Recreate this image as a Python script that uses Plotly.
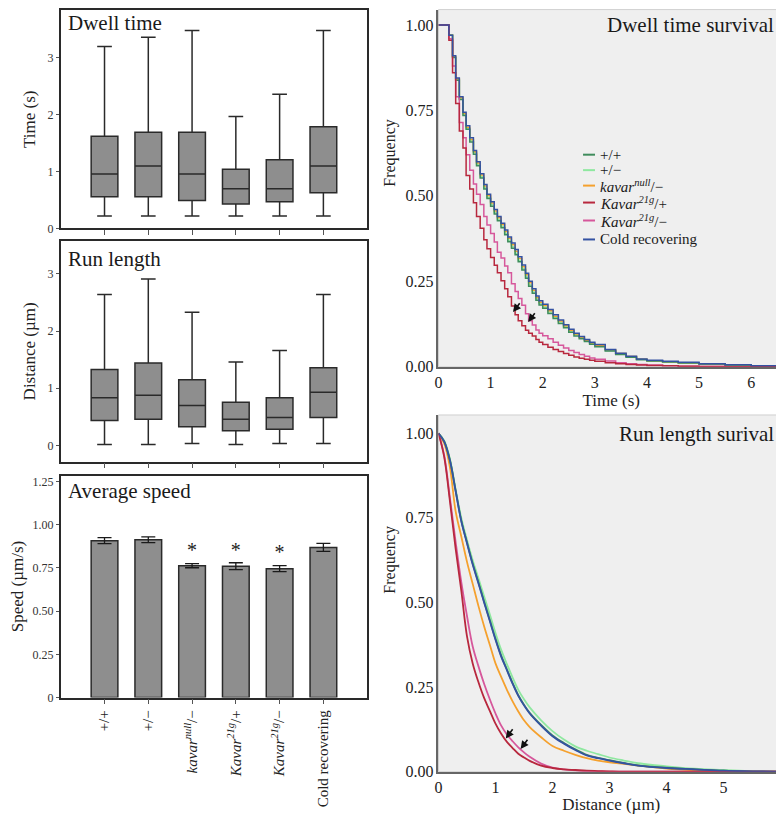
import plotly.graph_objects as go

FONT = "Liberation Serif"

# ---------------- data ----------------
categories = ["+/+", "+/−", "kavar null/−", "Kavar 21g/+", "Kavar 21g/−", "Cold recovering"]
category_labels = ["+/+", "+/−", "<i>kavar<sup>null</sup></i>/−", "<i>Kavar<sup>21g</sup></i>/+",
                   "<i>Kavar<sup>21g</sup></i>/−", "Cold recovering"]

# Dwell time box stats (s)
dwell_low = [0.22, 0.22, 0.22, 0.22, 0.22, 0.22]
dwell_q1 = [0.56, 0.56, 0.49, 0.43, 0.47, 0.63]
dwell_med = [0.96, 1.10, 0.96, 0.70, 0.70, 1.10]
dwell_q3 = [1.62, 1.69, 1.69, 1.04, 1.21, 1.79]
dwell_high = [3.20, 3.36, 3.48, 1.97, 2.36, 3.48]

# Run length box stats (um)
run_low = [0.02, 0.02, 0.035, 0.02, 0.035, 0.035]
run_q1 = [0.435, 0.46, 0.33, 0.26, 0.285, 0.49]
run_med = [0.835, 0.88, 0.70, 0.46, 0.49, 0.93]
run_q3 = [1.33, 1.44, 1.15, 0.755, 0.835, 1.36]
run_high = [2.64, 2.91, 2.33, 1.46, 1.66, 2.64]

# Average speed (um/s)
speed_mean = [0.908, 0.913, 0.763, 0.760, 0.746, 0.869]
speed_err = [0.017, 0.017, 0.012, 0.020, 0.017, 0.023]
significant = [False, False, True, True, True, False]

# Dwell time survival
dwell_t = [0, 0.2, 0.27, 0.33, 0.4, 0.47, 0.53, 0.6, 0.67, 0.73, 0.8, 0.87, 0.93, 1.0, 1.07, 1.13,
           1.2, 1.27, 1.33, 1.4, 1.47, 1.53, 1.6, 1.67, 1.73, 1.8, 1.87, 1.93, 2.0, 2.1, 2.2, 2.3,
           2.4, 2.5, 2.6, 2.7, 2.8, 2.9, 3.0, 3.2, 3.4, 3.6, 3.8, 4.0, 4.3, 4.6, 5.0, 5.5, 6.0, 6.6]
dwell_pp = [1.0, 0.97, 0.905, 0.838, 0.782, 0.735, 0.695, 0.658, 0.622, 0.588, 0.552, 0.52, 0.492,
            0.47, 0.447, 0.427, 0.407, 0.386, 0.366, 0.347, 0.328, 0.307, 0.283, 0.259, 0.236, 0.215,
            0.195, 0.181, 0.171, 0.156, 0.141, 0.127, 0.114, 0.101, 0.09, 0.082, 0.074, 0.066, 0.059,
            0.046, 0.036, 0.028, 0.021, 0.017, 0.014, 0.011, 0.008, 0.005, 0.002, 0.0]
dwell_pm = [1.0, 0.97, 0.907, 0.841, 0.785, 0.738, 0.698, 0.662, 0.626, 0.592, 0.556, 0.524, 0.496,
            0.474, 0.451, 0.431, 0.411, 0.39, 0.37, 0.351, 0.332, 0.311, 0.287, 0.263, 0.24, 0.219,
            0.199, 0.185, 0.175, 0.16, 0.145, 0.131, 0.118, 0.105, 0.094, 0.085, 0.077, 0.069, 0.062,
            0.048, 0.038, 0.029, 0.022, 0.018, 0.015, 0.012, 0.008, 0.005, 0.002, 0.0]
dwell_null = [1.0, 0.97, 0.908, 0.843, 0.787, 0.741, 0.701, 0.665, 0.629, 0.596, 0.561, 0.529, 0.501,
              0.479, 0.456, 0.436, 0.416, 0.396, 0.376, 0.357, 0.338, 0.317, 0.293, 0.269, 0.246,
              0.224, 0.203, 0.189, 0.179, 0.164, 0.148, 0.134, 0.12, 0.107, 0.096, 0.087, 0.078,
              0.07, 0.063, 0.05, 0.039, 0.03, 0.022, 0.018, 0.015, 0.012, 0.009, 0.005, 0.002, 0.0]
dwell_21g_p = [1.0, 0.955, 0.86, 0.77, 0.69, 0.64, 0.56, 0.52, 0.48, 0.44, 0.405, 0.372, 0.345, 0.32,
               0.297, 0.275, 0.252, 0.228, 0.205, 0.178, 0.152, 0.135, 0.12, 0.107, 0.098, 0.09, 0.08,
               0.072, 0.065, 0.057, 0.051, 0.045, 0.039, 0.034, 0.029, 0.025, 0.022, 0.019, 0.016,
               0.012, 0.009, 0.007, 0.005, 0.004, 0.003, 0.002, 0.001, 0.0, 0.0, 0.0]
dwell_21g_m = [1.0, 0.96, 0.88, 0.79, 0.715, 0.67, 0.62, 0.575, 0.535, 0.505, 0.475, 0.44, 0.415, 0.39,
               0.365, 0.335, 0.318, 0.295, 0.275, 0.243, 0.22, 0.2, 0.18, 0.155, 0.135, 0.122, 0.108,
               0.098, 0.091, 0.082, 0.072, 0.063, 0.055, 0.048, 0.042, 0.036, 0.031, 0.026, 0.022,
               0.017, 0.012, 0.009, 0.007, 0.005, 0.003, 0.002, 0.001, 0.0, 0.0, 0.0]
dwell_cold = [1.0, 0.97, 0.91, 0.845, 0.79, 0.745, 0.705, 0.67, 0.633, 0.6, 0.565, 0.533, 0.505, 0.483,
              0.46, 0.44, 0.42, 0.4, 0.38, 0.362, 0.343, 0.322, 0.298, 0.274, 0.25, 0.228, 0.207,
              0.193, 0.183, 0.168, 0.152, 0.137, 0.123, 0.11, 0.098, 0.089, 0.08, 0.072, 0.065, 0.051,
              0.04, 0.031, 0.023, 0.019, 0.016, 0.013, 0.009, 0.006, 0.003, 0.0]

# Run length survival
run_d = [0, 0.1, 0.2, 0.3, 0.4, 0.5, 0.6, 0.7, 0.8, 0.9, 1.0, 1.1, 1.2, 1.3, 1.4, 1.5, 1.6, 1.8, 2.0,
         2.2, 2.4, 2.6, 2.8, 3.0, 3.25, 3.5, 4.0, 4.5, 5.0, 5.5, 6.0]
run_pp = [1.0, 0.976, 0.921, 0.831, 0.742, 0.677, 0.615, 0.56, 0.503, 0.448, 0.393, 0.343, 0.302, 0.262,
          0.226, 0.198, 0.174, 0.138, 0.107, 0.085, 0.066, 0.05, 0.041, 0.034, 0.026, 0.019, 0.012,
          0.007, 0.003, 0.001, 0.0]
run_pm = [1.0, 0.978, 0.925, 0.835, 0.75, 0.685, 0.625, 0.572, 0.518, 0.465, 0.41, 0.36, 0.318, 0.278,
          0.242, 0.214, 0.19, 0.152, 0.12, 0.095, 0.075, 0.062, 0.052, 0.042, 0.033, 0.025, 0.016,
          0.009, 0.005, 0.001, 0.0]
run_null = [1.0, 0.97, 0.9, 0.77, 0.695, 0.62, 0.555, 0.49, 0.43, 0.375, 0.32, 0.28, 0.242, 0.208, 0.178,
            0.152, 0.132, 0.102, 0.076, 0.062, 0.05, 0.04, 0.033, 0.028, 0.023, 0.018, 0.009, 0.004,
            0.001, 0.0, 0.0]
run_21g_p = [1.0, 0.93, 0.8, 0.66, 0.535, 0.4, 0.32, 0.265, 0.218, 0.18, 0.142, 0.112, 0.088, 0.07,
             0.053, 0.042, 0.032, 0.018, 0.011, 0.007, 0.005, 0.003, 0.002, 0.001, 0.0, 0.0, 0.0, 0.0,
             0.0, 0.0, 0.0]
run_21g_m = [1.0, 0.935, 0.81, 0.68, 0.56, 0.46, 0.37, 0.312, 0.26, 0.214, 0.172, 0.136, 0.11, 0.09,
             0.072, 0.057, 0.044, 0.024, 0.012, 0.007, 0.004, 0.002, 0.001, 0.0, 0.0, 0.0, 0.0, 0.0,
             0.0, 0.0, 0.0]
run_cold = [1.0, 0.975, 0.92, 0.83, 0.74, 0.675, 0.612, 0.557, 0.5, 0.445, 0.39, 0.34, 0.3, 0.26, 0.224,
            0.196, 0.172, 0.136, 0.105, 0.083, 0.064, 0.048, 0.04, 0.033, 0.025, 0.018, 0.011, 0.007,
            0.003, 0.001, 0.0]

series_names = ["+/+", "+/−", "<i>kavar<sup>null</sup></i>/−", "<i>Kavar<sup>21g</sup></i>/+",
                "<i>Kavar<sup>21g</sup></i>/−", "Cold recovering"]
series_colors = ["#3f8c5c", "#8fe8a0", "#f5a12e", "#b8283e", "#d6579b", "#3452a2"]
dwell_series = [dwell_pp, dwell_pm, dwell_null, dwell_21g_p, dwell_21g_m, dwell_cold]
run_series = [run_pp, run_pm, run_null, run_21g_p, run_21g_m, run_cold]
draw_order = [1, 2, 0, 4, 3, 5]

# ---------------- figure ----------------
# page has an 8px body margin: the figure starts at page pixel (8, 8);
# SY compensates the slight vertical squeeze of the captured page
OX, OY = 8, 8
SY = 814 / 822
W, H = 776, 806
def px(x):
    return min(1.0, max(0.0, (x - OX) / W))
def py(y):
    return min(1.0, max(0.0, 1 - (y / SY - OY) / H))

BOX_FILL = "#8e8e8e"
EDGE = "#2a2a2a"
fig = go.Figure()

for axn, (lo, q1, med, q3, hi) in zip(["", "2"], [
        (dwell_low, dwell_q1, dwell_med, dwell_q3, dwell_high),
        (run_low, run_q1, run_med, run_q3, run_high)]):
    fig.add_trace(go.Box(x=categories, lowerfence=lo, q1=q1, median=med, q3=q3, upperfence=hi,
                         xaxis="x" + axn, yaxis="y" + axn, fillcolor=BOX_FILL,
                         line=dict(color=EDGE, width=1.5), whiskerwidth=0.55, width=0.61,
                         boxpoints=False, showlegend=False, hoverinfo="skip"))

fig.add_trace(go.Bar(x=categories, y=speed_mean, width=0.61, xaxis="x3", yaxis="y3",
                     marker=dict(color=BOX_FILL, line=dict(color=EDGE, width=1.5)),
                     error_y=dict(type="data", array=speed_err, color="#1a1a1a", thickness=1.3, width=7),
                     showlegend=False, hoverinfo="skip"))
star_x = [c for c, s in zip(categories, significant) if s]
star_y = [m + e + 0.065 for m, e, s in zip(speed_mean, speed_err, significant) if s]
fig.add_trace(go.Scatter(x=star_x, y=star_y, mode="text", text=["*"] * len(star_x),
                         textfont=dict(family=FONT, size=20, color="#222"), xaxis="x3", yaxis="y3",
                         showlegend=False, hoverinfo="skip"))

for i in draw_order:
    fig.add_trace(go.Scatter(x=dwell_t, y=dwell_series[i], mode="lines", line_shape="hv",
                             line=dict(color=series_colors[i], width=1.5), name=series_names[i],
                             showlegend=False, xaxis="x4", yaxis="y4", hoverinfo="skip"))
for i in draw_order:
    fig.add_trace(go.Scatter(x=run_d, y=run_series[i], mode="lines", line_shape="spline",
                             line=dict(color=series_colors[i], width=1.8), name=series_names[i],
                             showlegend=False, xaxis="x5", yaxis="y5", hoverinfo="skip"))

tickfont_small = dict(family=FONT, size=12, color="#333")
tickfont_big = dict(family=FONT, size=16, color="#222")
title_font = dict(family=FONT, size=17, color="#222")

left_x = [px(57), px(365)]
frame = dict(showline=True, linecolor=EDGE, linewidth=1.5, mirror=True, showgrid=False, zeroline=False)
cat_axis = dict(type="category", categoryarray=categories, range=[-1, 6], ticks="outside",
                ticklen=5, tickcolor="#555", **frame)
surv_line = dict(showline=True, linecolor="#666", linewidth=1.5, showgrid=False, zeroline=False,
                 tickfont=tickfont_big, ticks="")

layout = dict(
    width=W, height=H, margin=dict(l=0, r=0, t=0, b=0),
    paper_bgcolor="white", plot_bgcolor="white",
    font=dict(family=FONT, color="#222"),
    showlegend=False,
    xaxis=dict(domain=left_x, anchor="y", showticklabels=False, **cat_axis),
    yaxis=dict(domain=[py(228), py(9)], anchor="x", range=[0, 3.84], tickvals=[0, 1, 2, 3],
               ticks="outside", ticklen=3, tickcolor="#555", tickfont=tickfont_small,
               title=dict(text="Time (s)", font=title_font, standoff=8), **frame),
    xaxis2=dict(domain=left_x, anchor="y2", showticklabels=False, **cat_axis),
    yaxis2=dict(domain=[py(461.7), py(240.7)], anchor="x2", range=[-0.28, 3.57],
                tickvals=[0, 1, 2, 3], ticks="outside", ticklen=3, tickcolor="#555",
                tickfont=tickfont_small,
                title=dict(text="Distance (µm)", font=title_font, standoff=8), **frame),
    xaxis3=dict(domain=left_x, anchor="y3", tickvals=categories, ticktext=category_labels,
                tickangle=-90, tickfont=dict(family=FONT, size=15, color="#222"), **cat_axis),
    yaxis3=dict(domain=[py(698.3), py(475.7)], anchor="x3", range=[0, 1.285],
                tickvals=[0, 0.25, 0.5, 0.75, 1.0, 1.25],
                ticktext=["0", "0.25", "0.50", "0.75", "1.00", "1.25"],
                ticks="outside", ticklen=3, tickcolor="#555", tickfont=tickfont_small,
                title=dict(text="Speed (µm/s)", font=title_font, standoff=5), **frame),
    xaxis4=dict(domain=[px(436.7), 1.0], anchor="y4", range=[0, 6.63], tickvals=[0, 1, 2, 3, 4, 5, 6],
                title=dict(text="Time (s)", font=title_font, standoff=4), **surv_line),
    yaxis4=dict(domain=[py(366.7), py(8.5)], anchor="x4", range=[0, 1.045],
                tickvals=[0, 0.25, 0.5, 0.75, 1.0], ticktext=["0.00", "0.25", "0.50", "0.75", "1.00"],
                **surv_line),
    xaxis5=dict(domain=[px(436.7), 1.0], anchor="y5", range=[0, 6.06], tickvals=[0, 1, 2, 3, 4, 5, 6],
                title=dict(text="Distance (µm)", font=title_font, standoff=4), **surv_line),
    yaxis5=dict(domain=[py(772.7), py(415)], anchor="x5", range=[0, 1.054],
                tickvals=[0, 0.25, 0.5, 0.75, 1.0], ticktext=["0.00", "0.25", "0.50", "0.75", "1.00"],
                **surv_line),
)
fig.update_layout(**layout)

# grey plot areas for the survival panels
for xa, ya in [("x4", "y4"), ("x5", "y5")]:
    fig.add_shape(type="rect", xref=xa + " domain", yref=ya + " domain", x0=0, x1=1, y0=0, y1=1,
                  fillcolor="#efefef", line=dict(color="#d0d0d0", width=1), layer="below")

# "Frequency" axis titles sit above the axis middle in the original
for y in [152, 560]:
    fig.add_annotation(text="Frequency", x=px(388), y=py(y), xref="paper", yref="paper",
                       xanchor="center", yanchor="middle", textangle=-90, showarrow=False,
                       font=dict(family=FONT, size=16, color="#222"))

# legend (compact, as in the original figure)
legend_rows = [154, 169.5, 185, 202, 220, 239]
for name, color, yrow in zip(series_names, series_colors, legend_rows):
    fig.add_shape(type="line", xref="paper", yref="paper", x0=px(582), x1=px(594),
                  y0=py(yrow), y1=py(yrow), line=dict(color=color, width=2))
    fig.add_annotation(text=name, x=px(597), y=py(yrow), xref="paper", yref="paper",
                       xanchor="left", yanchor="middle", showarrow=False,
                       font=dict(family=FONT, size=15, color="#1a1a1a"))

# panel titles
for text, y in [("Dwell time", 21.7), ("Run length", 258.3), ("Average speed", 491.7)]:
    fig.add_annotation(text=text, x=px(62), y=py(y), xref="paper", yref="paper", xanchor="left",
                       yanchor="middle", showarrow=False, font=dict(family=FONT, size=21, color="#1a1a1a"))
for text, y in [("Dwell time survival", 24.3), ("Run length surival", 434.3)]:
    fig.add_annotation(text=text, x=px(776), y=py(y), xref="paper", yref="paper", xanchor="right",
                       yanchor="middle", showarrow=False, font=dict(family=FONT, size=21, color="#1a1a1a"))

# arrows
arrows = [("x4", "y4", 1.43, 0.16, 1.58, 0.19), ("x4", "y4", 1.72, 0.131, 1.87, 0.161),
          ("x5", "y5", 1.18, 0.098, 1.32, 0.13), ("x5", "y5", 1.44, 0.067, 1.58, 0.099)]
for xa, ya, x, y, ax, ay in arrows:
    fig.add_annotation(x=x, y=y, ax=ax, ay=ay, xref=xa, yref=ya, axref=xa, ayref=ya, text="",
                       showarrow=True, arrowhead=2, arrowsize=1, arrowwidth=1.6, arrowcolor="#111")

fig.write_html("out.html")
